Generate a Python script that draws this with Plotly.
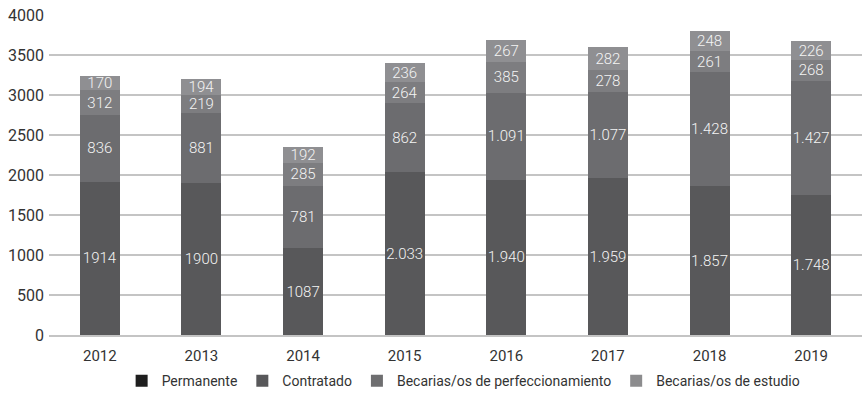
import plotly.graph_objects as go

# Personal por año y tipo de vínculo
years = ["2012", "2013", "2014", "2015", "2016", "2017", "2018", "2019"]
permanente = [1914, 1900, 1087, 2033, 1940, 1959, 1857, 1748]
contratado = [836, 881, 781, 862, 1091, 1077, 1428, 1427]
becas_perfeccionamiento = [312, 219, 285, 264, 385, 278, 261, 268]
becas_estudio = [170, 194, 192, 236, 267, 282, 248, 226]

# separador de miles usado en las etiquetas de cada año
separadores = ["", "", "", ".", ".", ".", ".", "."]

series_names = [
    "Permanente",
    "Contratado",
    "Becarias/os de perfeccionamiento",
    "Becarias/os de estudio",
]
series_values = [permanente, contratado, becas_perfeccionamiento, becas_estudio]
bar_colors = ["#58585a", "#6c6c6f", "#7d7d80", "#8f8f92"]
legend_colors = ["#1e1e1e", "#58585a", "#6e6e70", "#8c8c8e"]

FONT = "Roboto, 'Open Sans', sans-serif"


def etiqueta(valor, sep):
    s = f"{valor:,}"
    return s.replace(",", sep)


fig = go.Figure()

for name, vals, color in zip(series_names, series_values, bar_colors):
    fig.add_trace(
        go.Bar(
            x=years,
            y=vals,
            name=name,
            marker=dict(color=color, line=dict(width=0)),
            text=[etiqueta(v, s) for v, s in zip(vals, separadores)],
            textposition="inside",
            insidetextanchor="middle",
            textangle=0,
            constraintext="none",
            textfont=dict(family=FONT, size=15, color="#f4f4f4", weight=300),
            showlegend=False,
            hoverinfo="x+y+name",
        )
    )

# entradas de la leyenda
for name, color in zip(series_names, legend_colors):
    fig.add_trace(
        go.Bar(
            x=[None],
            y=[None],
            name=name,
            marker=dict(color=color, line=dict(width=0)),
            showlegend=True,
        )
    )

fig.update_layout(
    barmode="stack",
    bargap=0.606,
    width=862,
    height=404,
    margin=dict(l=49, r=0, t=15, b=69),
    paper_bgcolor="white",
    plot_bgcolor="white",
    font=dict(family=FONT, size=15, color="#333333"),
    legend=dict(
        orientation="h",
        x=0.51,
        xanchor="center",
        y=-0.144,
        yanchor="middle",
        font=dict(family=FONT, size=14, color="#333333"),
        itemwidth=30,
        traceorder="normal",
    ),
    xaxis=dict(
        showgrid=False,
        showline=True,
        linecolor="#c4c4c4",
        linewidth=2,
        ticks="",
        ticklabelstandoff=6,
        tickfont=dict(size=15, color="#333333"),
    ),
    yaxis=dict(
        range=[0, 4000],
        tickvals=[0, 500, 1000, 1500, 2000, 2500, 3000, 3500, 4000],
        showgrid=True,
        gridcolor="#c4c4c4",
        gridwidth=1.5,
        zeroline=False,
        showline=False,
        ticks="",
        tickfont=dict(size=16, color="#333333"),
        ticklabelstandoff=4,
    ),
)

fig.write_html("out.html")
